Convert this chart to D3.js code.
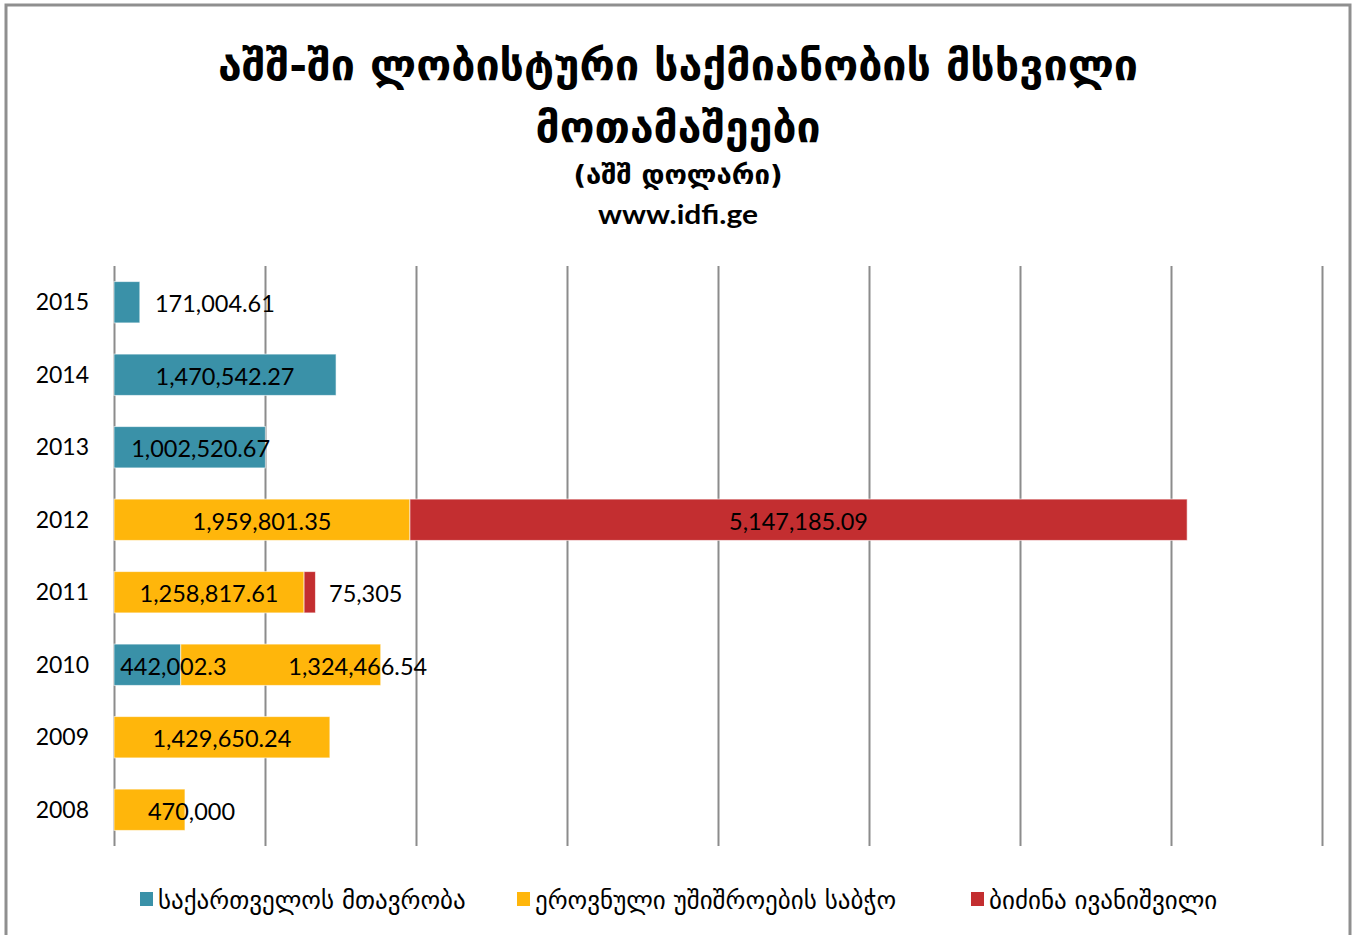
<!DOCTYPE html>
<html>
<head>
<meta charset="utf-8">
<script src="https://cdn.jsdelivr.net/npm/d3@7"></script>
<style>
  body { margin: 0; background: #fff; }
  svg { display: block; }
</style>
</head>
<body>
<svg id="chart" width="1353" height="935"></svg>
<script>
// data
let years = ['2015','2014','2013','2012','2011','2010','2009','2008'];
let government      = [171004.61, 1470542.27, 1002520.67, 0, 0, 442002.3, 0, 0];
let securityCouncil = [0, 0, 0, 1959801.35, 1258817.61, 1324466.54, 1429650.24, 470000];
let ivanishvili     = [0, 0, 0, 5147185.09, 75305, 0, 0, 0];
let seriesNames = ['საქართველოს მთავრობა', 'ეროვნული უშიშროების საბჭო', 'ბიძინა ივანიშვილი'];
let seriesColors = ['#3a91a8', '#ffb60b', '#c32e30'];
let gridTicks = [0, 1e6, 2e6, 3e6, 4e6, 5e6, 6e6, 7e6, 8e6];

// a few labels were dragged sideways in the original
let labelShift = {'2015|0': 88, '2013|0': 11, '2010|0': 26, '2010|1': 77, '2011|2': 56, '2008|1': 42};

let svg = d3.select('#chart');
let georgian = '"DejaVu Sans", sans-serif';
let numFont = 'Lato, "DejaVu Sans", sans-serif';

// outer frame
svg.append('rect')
    .attr('x', 6).attr('y', 5)
    .attr('width', 1344).attr('height', 960)
    .attr('fill', 'none')
    .attr('stroke', '#8f8f8f')
    .attr('stroke-width', 3);

// titles
let title = svg.append('g').attr('text-anchor', 'middle');
title.append('text')
    .attr('x', 678).attr('y', 80)
    .attr('font-family', georgian).attr('font-weight', 'bold').attr('font-size', 43)
    .attr('textLength', 920).attr('lengthAdjust', 'spacingAndGlyphs')
    .text('აშშ-ში ლობისტური საქმიანობის მსხვილი');
title.append('text')
    .attr('x', 678).attr('y', 142)
    .attr('font-family', georgian).attr('font-weight', 'bold').attr('font-size', 43)
    .attr('textLength', 285).attr('lengthAdjust', 'spacingAndGlyphs')
    .text('მოთამაშეები');
title.append('text')
    .attr('x', 678).attr('y', 184)
    .attr('font-family', georgian).attr('font-weight', 'bold').attr('font-size', 27)
    .attr('textLength', 209).attr('lengthAdjust', 'spacingAndGlyphs')
    .text('(აშშ დოლარი)');
title.append('text')
    .attr('x', 678).attr('y', 224)
    .attr('font-family', numFont).attr('font-weight', 'bold').attr('font-size', 27)
    .attr('textLength', 160).attr('lengthAdjust', 'spacingAndGlyphs')
    .text('www.idfi.ge');

let xScale = d3.scaleLinear().domain([0, 8e6]).range([114, 1322]);
let yScale = d3.scaleBand().domain(years).range([266, 846]).paddingInner(0.43).paddingOuter(0.215);

// vertical gridlines
svg.append('g')
    .attr('transform', 'translate(0,846)')
    .call(d3.axisBottom(xScale).tickValues(gridTicks).tickSize(-580).tickFormat(''))
    .call(g => g.select('.domain').remove())
    .call(g => g.selectAll('line').attr('stroke', '#8c8c8c').attr('stroke-width', 2));

// year labels
svg.append('g')
    .selectAll('text')
    .data(years)
    .enter()
    .append('text')
    .attr('x', 89)
    .attr('y', d => yScale(d) + yScale.bandwidth() / 2)
    .attr('dy', '0.35em')
    .attr('text-anchor', 'end')
    .attr('font-family', numFont)
    .attr('font-size', 23)
    .attr('fill', '#000')
    .text(d => d);

// stacked bars
let rows = years.map((y, i) => ({year: y, s0: government[i], s1: securityCouncil[i], s2: ivanishvili[i]}));
let stack = d3.stack().keys(['s0', 's1', 's2'])(rows);
let fmt = d3.format(',');

let layers = svg.append('g')
    .selectAll('g')
    .data(stack)
    .enter()
    .append('g')
    .attr('fill', (d, i) => seriesColors[i]);

layers.selectAll('rect')
    .data(d => d.filter(p => p[1] - p[0] > 0))
    .enter()
    .append('rect')
    .attr('x', d => xScale(d[0]))
    .attr('y', d => yScale(d.data.year))
    .attr('width', d => xScale(d[1]) - xScale(d[0]))
    .attr('height', yScale.bandwidth())
    .attr('stroke', 'rgba(255,255,255,0.6)')
    .attr('stroke-width', 1);

// value labels
let labels = svg.append('g')
    .attr('font-family', numFont)
    .attr('font-size', 23.5)
    .attr('text-anchor', 'middle')
    .attr('fill', '#000');
stack.forEach((layer, si) => {
    layer.filter(p => p[1] - p[0] > 0).forEach(p => {
        let shift = labelShift[p.data.year + '|' + si] || 0;
        labels.append('text')
            .attr('x', (xScale(p[0]) + xScale(p[1])) / 2 + shift)
            .attr('y', yScale(p.data.year) + yScale.bandwidth() / 2 + 2)
            .attr('dy', '0.35em')
            .text(fmt(p[1] - p[0]));
    });
});

// legend
let legendX = [140, 517, 971];
let legend = svg.append('g')
    .selectAll('g')
    .data(seriesNames)
    .enter()
    .append('g')
    .attr('transform', (d, i) => `translate(${legendX[i]},892)`);
legend.append('rect')
    .attr('width', 13).attr('height', 14)
    .attr('fill', (d, i) => seriesColors[i]);
legend.append('text')
    .attr('x', 18).attr('y', 8)
    .attr('dy', '0.35em')
    .attr('font-family', georgian)
    .attr('font-size', 25)
    .attr('fill', '#000')
    .text(d => d);
</script>
</body>
</html>
